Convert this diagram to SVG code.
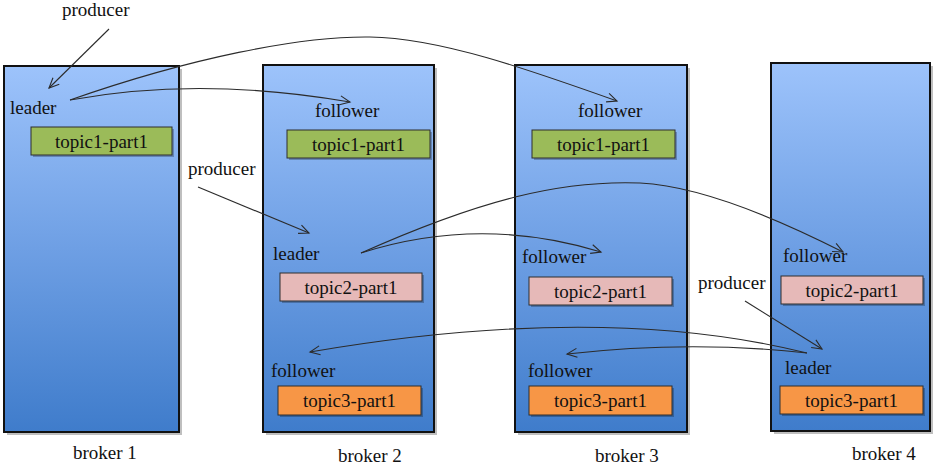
<svg xmlns="http://www.w3.org/2000/svg" width="936" height="466" viewBox="0 0 936 466">
<defs>
<linearGradient id="bg" x1="0" y1="0" x2="0" y2="1">
<stop offset="0" stop-color="#9DC3FB"/>
<stop offset="0.5" stop-color="#6E9FE4"/>
<stop offset="1" stop-color="#3F7CCB"/>
</linearGradient>
<marker id="arr" markerWidth="14" markerHeight="14" refX="11" refY="7" orient="auto" markerUnits="userSpaceOnUse">
<path d="M1,2.5 L11,7 L1,11.5" fill="none" stroke="#2b2b2b" stroke-width="1.1"/>
</marker>
<style>
.broker{fill:url(#bg);stroke:#111;stroke-width:2}
.shadow{fill:#000;opacity:0.25}
.t1{fill:#9BBB59;stroke:#2e2e2e;stroke-width:1}
.t2{fill:#E6B9B8;stroke:#2e2e2e;stroke-width:1}
.t3{fill:#F79646;stroke:#2e2e2e;stroke-width:1}
text{font-family:"Liberation Serif","Times New Roman",serif;font-size:19px;fill:#111}
.c{text-anchor:middle}
.conn path{fill:none;stroke:#2b2b2b;stroke-width:1.1;marker-end:url(#arr)}
</style>
</defs>
<rect width="936" height="466" fill="#fff"/>

<g id="broker1">
<rect class="shadow" x="7" y="69" width="175" height="366"/>
<rect class="broker" x="4" y="66" width="175" height="366"/>
<text x="10" y="114">leader</text>
<rect class="shadow" x="33" y="129" width="141" height="28"/>
<rect class="t1" x="31" y="127" width="141" height="28"/>
<text class="c" x="101.5" y="148">topic1-part1</text>
<text x="73" y="459">broker 1</text>
</g>

<g id="broker2">
<rect class="shadow" x="266" y="68" width="171" height="367"/>
<rect class="broker" x="263" y="65" width="171" height="367"/>
<text x="315" y="117">follower</text>
<rect class="shadow" x="289" y="132" width="143" height="28"/>
<rect class="t1" x="287" y="130" width="143" height="28"/>
<text class="c" x="358.5" y="151">topic1-part1</text>
<text x="273" y="260">leader</text>
<rect class="shadow" x="282" y="275" width="142" height="28"/>
<rect class="t2" x="280" y="273" width="142" height="28"/>
<text class="c" x="351" y="294">topic2-part1</text>
<text x="271" y="377">follower</text>
<rect class="shadow" x="280" y="388" width="143" height="29"/>
<rect class="t3" x="278" y="386" width="143" height="29"/>
<text class="c" x="349.5" y="407">topic3-part1</text>
<text x="338" y="462">broker 2</text>
</g>

<g id="broker3">
<rect class="shadow" x="518" y="68" width="172" height="367"/>
<rect class="broker" x="515" y="65" width="172" height="367"/>
<text x="578" y="117">follower</text>
<rect class="shadow" x="534" y="132" width="143" height="28"/>
<rect class="t1" x="532" y="130" width="143" height="28"/>
<text class="c" x="603.5" y="151">topic1-part1</text>
<text x="522" y="263">follower</text>
<rect class="shadow" x="531" y="279" width="143" height="28"/>
<rect class="t2" x="529" y="277" width="143" height="28"/>
<text class="c" x="600.5" y="298">topic2-part1</text>
<text x="528" y="377">follower</text>
<rect class="shadow" x="531" y="388" width="143" height="29"/>
<rect class="t3" x="529" y="386" width="143" height="29"/>
<text class="c" x="600.5" y="407">topic3-part1</text>
<text x="595" y="462">broker 3</text>
</g>

<g id="broker4">
<rect class="shadow" x="774" y="66" width="159" height="368"/>
<rect class="broker" x="771" y="63" width="159" height="368"/>
<text x="783" y="262">follower</text>
<rect class="shadow" x="783" y="278" width="142" height="28"/>
<rect class="t2" x="781" y="276" width="142" height="28"/>
<text class="c" x="852" y="297">topic2-part1</text>
<text x="785" y="374">leader</text>
<rect class="shadow" x="782" y="388" width="143" height="28"/>
<rect class="t3" x="780" y="386" width="143" height="28"/>
<text class="c" x="851.5" y="407">topic3-part1</text>
<text x="852" y="460">broker 4</text>
</g>

<g id="producer1"><text x="62" y="16">producer</text></g>
<g id="producer2"><text x="188" y="175">producer</text></g>
<g id="producer3"><text x="698" y="289">producer</text></g>

<g id="connectors" class="conn">
<path d="M109,29 L49,88"/>
<path d="M70,100 Q200,76 350,102"/>
<path d="M70,100 C190,58 300,36 370,37 C440,38 530,70 617,101"/>
<path d="M198,187 L309,233"/>
<path d="M361,253 Q480,215 601,252"/>
<path d="M361,253 C480,200 560,180 640,183 C700,186 780,220 843,252"/>
<path d="M745,301 L822,349"/>
<path d="M807,353 Q602,302 310,352"/>
<path d="M807,353 Q690,340 567,354"/>
</g>
</svg>
